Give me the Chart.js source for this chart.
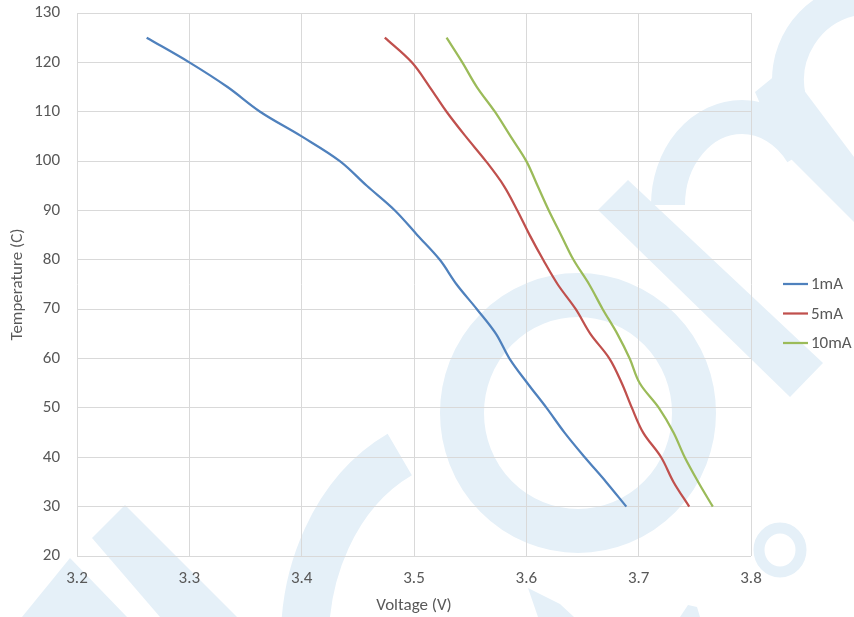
<!DOCTYPE html>
<html>
<head>
<meta charset="utf-8">
<script src="https://cdn.jsdelivr.net/npm/chart.js@4.4.0/dist/chart.umd.min.js"></script>
<style>
  html, body { margin: 0; padding: 0; background: #fff; }
  #wrap { width: 854px; height: 617px; }
</style>
</head>
<body>
<div id="wrap"><canvas id="chart" width="854" height="617"></canvas></div>
<script>
'use strict';

// temperature steps (C), shared by all three series
var temps = [125, 120, 115, 110, 105, 100, 95, 90, 85, 80, 75, 70, 65, 60, 55, 50, 45, 40, 35, 30];

// voltage readings (V)
var volts1mA = [3.262, 3.300, 3.334, 3.363, 3.400, 3.434, 3.458, 3.483, 3.503, 3.523,
  3.538, 3.556, 3.573, 3.585, 3.601, 3.618, 3.634, 3.652, 3.671, 3.689];
var volts5mA = [3.474, 3.498, 3.514, 3.529, 3.546, 3.564, 3.580, 3.592, 3.603, 3.615,
  3.628, 3.644, 3.657, 3.674, 3.685, 3.694, 3.704, 3.720, 3.731, 3.745];
var volts10mA = [3.529, 3.543, 3.556, 3.572, 3.586, 3.600, 3.610, 3.620, 3.631, 3.642,
  3.656, 3.668, 3.681, 3.692, 3.701, 3.718, 3.731, 3.741, 3.753, 3.766];

var seriesNames = ['1mA', '5mA', '10mA'];
var seriesColors = ['#4f81bd', '#c0504d', '#9bbb59'];

var textColor = '#595959';
var labelFont = { family: 'Carlito, Calibri, "Open Sans", sans-serif', size: 17 };

function toPoints(volts) {
  var pts = [];
  for (var i = 0; i < volts.length; i++) {
    pts.push({ x: volts[i], y: temps[i] });
  }
  return pts;
}

function poly(c, pts) {
  c.beginPath();
  c.moveTo(pts[0][0], pts[0][1]);
  for (var i = 1; i < pts.length; i++) c.lineTo(pts[i][0], pts[i][1]);
  c.closePath();
  c.fill();
}

// faint logo watermark, painted first so grid and lines sit on top
var watermark = {
  id: 'watermark',
  beforeDraw: function (chart) {
    var c = chart.ctx;
    c.save();
    c.strokeStyle = '#e5f0f8';
    c.fillStyle = '#e5f0f8';
    c.lineCap = 'butt';

    // big ring in the middle-right
    c.lineWidth = 44;
    c.beginPath();
    c.ellipse(578, 413, 116, 118, 0, 0, Math.PI * 2);
    c.stroke();

    // open arc at the bottom
    c.lineWidth = 48;
    c.beginPath();
    c.ellipse(470, 640, 165, 205, 0, Math.PI * 0.97, Math.PI * 1.36);
    c.stroke();
    poly(c, [[528, 588], [560, 604], [574, 617], [538, 617]]);

    // arches top right
    c.lineWidth = 34;
    c.beginPath();
    c.ellipse(742, 205, 74, 88, 0, Math.PI * 1.0, Math.PI * 1.8);
    c.stroke();
    poly(c, [[755, 92], [782, 70], [800, 85], [854, 157], [854, 222], [790, 158], [780, 150]]);
    c.lineWidth = 32;
    c.beginPath();
    c.arc(870, 80, 82, Math.PI * 0.93, Math.PI * 1.55);
    c.stroke();

    // diagonal band top right
    poly(c, [[598, 210], [628, 180], [823, 363], [790, 397]]);

    // strokes bottom left
    poly(c, [[92, 538], [125, 505], [237, 617], [160, 617]]);
    poly(c, [[70, 558], [127, 617], [22, 617]]);

    // small marks bottom right
    c.lineWidth = 11;
    c.beginPath();
    c.ellipse(780, 550, 21, 22, 0, 0, Math.PI * 2);
    c.stroke();
    poly(c, [[680, 617], [688, 605], [697, 607], [700, 617]]);
    c.restore();
  }
};

// legend to the right of the plot, Excel style: short line then the name
var sideLegend = {
  id: 'sideLegend',
  afterDraw: function (chart) {
    var c = chart.ctx;
    var area = chart.chartArea;
    var x0 = area.right + 32;
    var y0 = (area.top + area.bottom) / 2 - 0.5;
    c.save();
    c.font = labelFont.size + 'px ' + labelFont.family;
    c.textBaseline = 'middle';
    c.textAlign = 'left';
    chart.data.datasets.forEach(function (ds, i) {
      var y = y0 + i * 29.5;
      c.strokeStyle = ds.borderColor;
      c.lineWidth = 2.25;
      c.beginPath();
      c.moveTo(x0, y);
      c.lineTo(x0 + 25, y);
      c.stroke();
      c.fillStyle = textColor;
      c.fillText(ds.label, x0 + 28, y + 1);
    });
    c.restore();
  }
};

var datasets = [];
var seriesValues = [volts1mA, volts5mA, volts10mA];
for (var s = 0; s < seriesNames.length; s++) {
  datasets.push({
    label: seriesNames[s],
    data: toPoints(seriesValues[s]),
    showLine: true,
    borderColor: seriesColors[s],
    backgroundColor: seriesColors[s],
    borderWidth: 2.25,
    pointRadius: 0,
    tension: 0.35,
    fill: false
  });
}

var ctx = document.getElementById('chart').getContext('2d');
var chart = new Chart(ctx, {
  type: 'scatter',
  data: { datasets: datasets },
  plugins: [watermark, sideLegend],
  options: {
    responsive: false,
    animation: false,
    layout: { padding: { top: 0, left: 2, right: 103, bottom: 1 } },
    plugins: {
      tooltip: { enabled: false },
      legend: { display: false }
    },
    scales: {
      x: {
        type: 'linear',
        min: 3.2,
        max: 3.8,
        border: { display: false },
        grid: { color: '#d9d9d9', drawTicks: false },
        ticks: {
          stepSize: 0.1,
          padding: 13,
          color: textColor,
          font: labelFont,
          callback: function (v) { return v.toFixed(1); }
        },
        title: { display: true, text: 'Voltage (V)', color: textColor, font: labelFont, padding: { top: 6, bottom: 0 } },
        afterFit: function (scale) {
          scale.height = 60;
          scale.paddingLeft = 0;
          scale.paddingRight = 0;
        }
      },
      y: {
        min: 20,
        max: 130,
        border: { display: false },
        grid: { color: '#d9d9d9', drawTicks: false },
        ticks: { stepSize: 10, padding: 17, color: textColor, font: labelFont },
        title: { display: true, text: 'Temperature (C)', color: textColor, font: labelFont, padding: { top: 6, bottom: 0 } },
        afterFit: function (scale) {
          scale.width = 75;
          scale.paddingTop = 13;
          scale.paddingBottom = 0;
        }
      }
    }
  }
});
</script>
</body>
</html>
